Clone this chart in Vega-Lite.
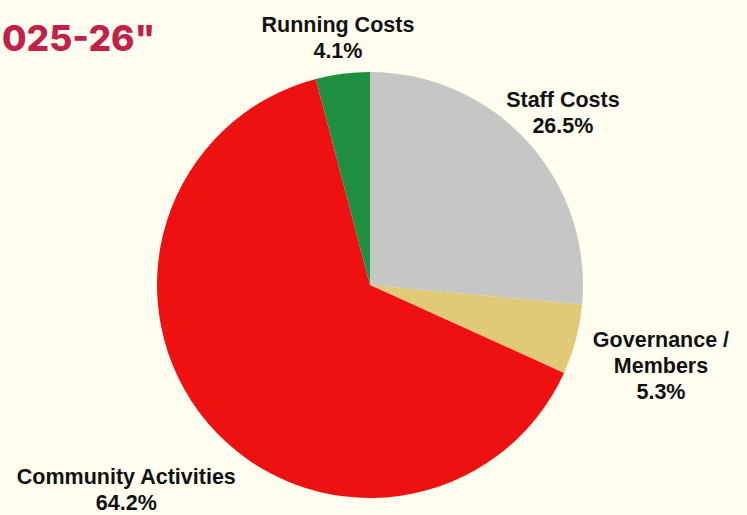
{
  "$schema": "https://vega.github.io/schema/vega-lite/v6.json",
  "autosize": "none",
  "width": 740,
  "height": 410,
  "padding": {"left": 0, "top": 80, "right": 7, "bottom": 25},
  "background": "#fffef0",
  "config": {"view": {"stroke": null}},
  "title": {
    "text": "025-26\"",
    "anchor": "start",
    "frame": "group",
    "baseline": "alphabetic",
    "offset": 0,
    "dy": 71,
    "font": "Inter",
    "fontWeight": 800,
    "fontSize": 35.5,
    "color": "#c0224a",
    "dx": 2
  },
  "data": {
    "values": [
      {"rank": 1, "category": "Staff Costs", "label": "Staff Costs", "value": 26.5},
      {"rank": 2, "category": "Governance / Members", "label": "Governance /\nMembers", "value": 5.3},
      {"rank": 3, "category": "Community Activities", "label": "Community Activities", "value": 64.2},
      {"rank": 4, "category": "Running Costs", "label": "Running Costs", "value": 4.1}
    ]
  },
  "transform": [
    {"calculate": "datum.label + '\\n' + format(datum.value, '.1f') + '%'", "as": "text"}
  ],
  "encoding": {
    "theta": {"field": "value", "type": "quantitative", "stack": true},
    "order": {"field": "rank", "type": "ordinal"}
  },
  "layer": [
    {
      "mark": {"type": "arc", "radius": 213},
      "encoding": {
        "color": {
          "field": "category",
          "type": "nominal",
          "scale": {
            "domain": ["Staff Costs", "Governance / Members", "Community Activities", "Running Costs"],
            "range": ["#c6c6c4", "#e0ca78", "#ee1111", "#1f8f40"]
          },
          "legend": null
        }
      }
    },
    {
      "mark": {
        "type": "text",
        "font": "Liberation Sans",
        "fontWeight": "bold",
        "fontSize": 21.5,
        "lineHeight": 26,
        "lineBreak": "\n",
        "align": "center",
        "baseline": "middle",
        "color": "#111111",
        "radius": {"expr": "datum.rank == 1 ? 261 : datum.rank == 2 ? 301 : datum.rank == 3 ? 319 : 250"},
        "dy": {"expr": "datum.rank == 1 ? -8 : datum.rank == 2 ? -21 : datum.rank == 3 ? -13 : -11"}
      },
      "encoding": {
        "text": {"field": "text", "type": "nominal"}
      }
    }
  ]
}
